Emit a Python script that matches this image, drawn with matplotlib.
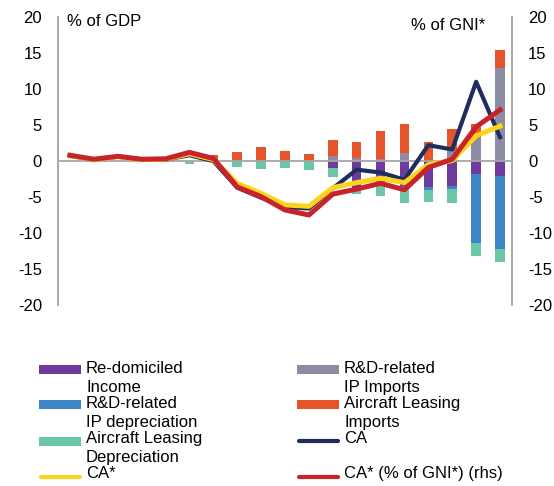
import numpy as np
import matplotlib
matplotlib.use("Agg")
import matplotlib.pyplot as plt
from matplotlib.patches import Rectangle
from matplotlib.lines import Line2D

plt.rcParams['font.family'] = ['Liberation Sans', 'DejaVu Sans']
plt.rcParams['axes.unicode_minus'] = False

# Data (1998-2016), % of GDP; last line % of GNI*
years = list(range(1998, 2017))
tick_labels = ['98', '00', '02', '04', '06', '08', '10', '12', '14', '16']

redomiciled = [0, 0, 0, 0, 0, 0, 0, 0, 0, 0, 0, -1.0, -3.7, -3.3, -3.5, -3.65, -3.5, -1.8, -2.1]
rd_depreciation = [0, 0, 0, 0, 0, 0, 0, 0, 0, 0, 0, 0, 0, 0, -0.2, -0.38, -0.35, -9.55, -10.1]
air_depreciation = [0, 0, 0, 0, -0.15, -0.35, 0, -0.8, -1.05, -1.0, -1.25, -1.2, -0.9, -1.5, -2.2,
                    -1.62, -2.0, -1.8, -1.8]
rd_imports = [0, 0, 0, 0, 0, 0, 0, 0, 0, 0, 0, 0.7, 0.35, 0.3, 1.15, 0.1, 1.5, 3.2, 12.85]
air_imports = [0, 0, 0, 0, 0, 0, 0.8, 1.3, 2.0, 1.4, 0.97, 2.2, 2.35, 3.8, 4.05, 2.6, 2.9, 1.9, 2.55]

ca = [0.7, 0.2, 0.6, 0.2, 0.2, 0.8, 0.0, -3.7, -5.1, -6.4, -6.6, -3.8, -1.2, -1.6, -2.6, 2.2, 1.6,
      11.0, 3.3]
ca_star = [0.75, 0.2, 0.6, 0.2, 0.25, 1.0, 0.2, -3.1, -4.5, -6.1, -6.3, -3.7, -3.0, -2.4, -3.0,
           -0.5, 0.05, 3.5, 4.85]
ca_star_gni = [0.8, 0.25, 0.65, 0.25, 0.3, 1.2, 0.35, -3.6, -4.95, -6.8, -7.5, -4.6, -3.9, -3.1,
               -4.0, -0.9, 0.25, 4.75, 7.1]

# Colours
c_purple = '#6e3a9c'
c_grey = '#8c8ca5'
c_blue = '#3d85c6'
c_orange = '#e8542a'
c_teal = '#6cc7a8'
c_navy = '#1f2c5e'
c_yellow = '#fdd31c'
c_red = '#c8222b'
c_axis = '#a6a6a6'

fig = plt.figure(figsize=(5.54, 4.86), dpi=100)
ax = fig.add_axes([58 / 554, 1 - 305 / 486, 454 / 554, 288 / 486])
ax2 = ax.twinx()

x = np.arange(len(years))
w = 0.4

redom = np.array(redomiciled)
rdd = np.array(rd_depreciation)
ad = np.array(air_depreciation)
rdi = np.array(rd_imports)
ai = np.array(air_imports)

ax.bar(x, rdi, w, color=c_grey, zorder=1)
ax.bar(x, ai, w, bottom=rdi, color=c_orange, zorder=1)
ax.bar(x, redom, w, color=c_purple, zorder=1)
ax.bar(x, rdd, w, bottom=redom, color=c_blue, zorder=1)
ax.bar(x, ad, w, bottom=redom + rdd, color=c_teal, zorder=1)

ax.axhline(0, color=c_axis, lw=1.3, zorder=1.5)

ax.plot(x, ca, color=c_navy, lw=3.0, zorder=3)
ax.plot(x, ca_star, color=c_yellow, lw=3.6, zorder=4)
ax2.plot(x, ca_star_gni, color=c_red, lw=3.6, zorder=5)

for a in (ax, ax2):
    a.set_ylim(-20, 20)
    a.set_yticks(range(-20, 21, 5))
    a.set_xlim(-0.5, len(years) - 0.5)
    for s in ('top', 'bottom'):
        a.spines[s].set_visible(False)
    for s in ('left', 'right'):
        a.spines[s].set_color(c_axis)
        a.spines[s].set_linewidth(1.1)
    a.tick_params(axis='y', length=0, labelsize=12, pad=11.5)
    a.tick_params(axis='x', length=0, labelsize=12, pad=11)

ax.set_xticks(x[::2])
ax.set_xticklabels(tick_labels)
ax2.set_xticks([])

ax.text(0.02, 1.012, '% of GDP', transform=ax.transAxes, fontsize=12, va='top', ha='left')
ax2.text(0.94, 0.995, '% of GNI*', transform=ax.transAxes, fontsize=12, va='top', ha='right')

# Legend laid out in two columns, labels hanging below the first line
entries = [
    ('patch', c_purple, 'Re-domiciled\nIncome'),
    ('patch', c_grey, 'R&D-related\nIP Imports'),
    ('patch', c_blue, 'R&D-related\nIP depreciation'),
    ('patch', c_orange, 'Aircraft Leasing\nImports'),
    ('patch', c_teal, 'Aircraft Leasing\nDepreciation'),
    ('line', c_navy, 'CA'),
    ('line', c_yellow, 'CA*'),
    ('line', c_red, 'CA* (% of GNI*) (rhs)'),
]
col_x = [39, 297]
handle_y = [369, 404, 441, 477]
text_top = [361, 396, 431, 466]
for i, (kind, col, lab) in enumerate(entries):
    r, c = divmod(i, 2)
    hx = col_x[c]
    hy = handle_y[r]
    if kind == 'patch':
        fig.add_artist(Rectangle((hx / 554, 1 - (hy + 4.5) / 486), 42 / 554, 9 / 486,
                                 transform=fig.transFigure, color=col, lw=0))
    else:
        fig.add_artist(Line2D([(hx + 2) / 554, (hx + 41) / 554], [1 - hy / 486] * 2,
                              transform=fig.transFigure, color=col, lw=3.0,
                              solid_capstyle='round'))
    fig.text((hx + 47) / 554, 1 - text_top[r] / 486, lab, fontsize=12, va='top', ha='left',
             linespacing=1.3)

fig.savefig('out.png', dpi=100)
